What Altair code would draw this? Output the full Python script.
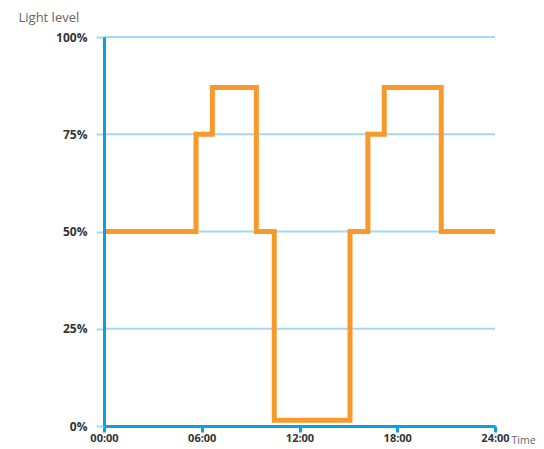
import altair as alt
import pandas as pd

# Step profile: light level (%) held from each time (hours) until the next one
times = [0, 5.65, 6.65, 9.35, 10.45, 15.1, 16.2, 17.2, 20.7, 24]
levels = [50, 75, 87, 50, 1.5, 50, 75, 87, 50, 50]

y_ticks = [0, 25, 50, 75, 100]
x_ticks = [0, 6, 12, 18, 24]

AXIS_BLUE = "#0aa0e2"
GRID_BLUE = "#a3daf3"
ORANGE = "#f7992b"
FONT = "Open Sans"

df = pd.DataFrame({"time": times, "level": levels})
grid_df = pd.DataFrame({"level": y_ticks})

x_scale = alt.Scale(domain=[0, 24], nice=False, zero=False)
y_scale = alt.Scale(domain=[0, 100], nice=False)

y_axis = alt.Axis(
    values=y_ticks,
    labelExpr="datum.value + '%'",
    title="Light level",
    titleAngle=0,
    titleAlign="left",
    titleBaseline="alphabetic",
    titleX=-86,
    titleY=-16,
    titleFont=FONT,
    titleFontSize=13,
    titleFontWeight="normal",
    titleColor="#666666",
    domainColor=AXIS_BLUE,
    domainWidth=3,
    tickColor=GRID_BLUE,
    tickWidth=2,
    tickSize=8,
    labelFont=FONT,
    labelFontSize=12,
    labelFontWeight="bold",
    labelColor="#333333",
    labelPadding=9,
    labelFlush=False,
    grid=False,
    zindex=1,
)

x_axis = alt.Axis(
    values=x_ticks,
    labelExpr="(datum.value < 10 ? '0' : '') + datum.value + ':00'",
    title="Time",
    titleAngle=0,
    titleAlign="left",
    titleBaseline="alphabetic",
    titleX=407,
    titleY=17,
    titleFont=FONT,
    titleFontSize=10.5,
    titleFontWeight="normal",
    titleColor="#666666",
    domainColor=AXIS_BLUE,
    domainWidth=3,
    tickColor=AXIS_BLUE,
    tickWidth=3,
    tickSize=6,
    labelFont=FONT,
    labelFontSize=11,
    labelFontWeight="bold",
    labelColor="#333333",
    labelPadding=0,
    labelFlush=False,
    grid=False,
    zindex=1,
)

grid = alt.Chart(grid_df).mark_rule(color=GRID_BLUE, strokeWidth=2).encode(
    y=alt.Y("level:Q", scale=y_scale, axis=y_axis)
)

line = alt.Chart(df).mark_line(
    color=ORANGE, strokeWidth=5, interpolate="step-after", strokeJoin="miter", strokeCap="butt"
).encode(
    x=alt.X("time:Q", scale=x_scale, axis=x_axis),
    y=alt.Y("level:Q", scale=y_scale, axis=y_axis),
)

chart = alt.layer(grid, line).properties(
    width=391,
    height=389,
    autosize=alt.AutoSizeParams(type="none"),
    padding={"left": 96, "top": 29, "right": 41, "bottom": 24},
).configure_view(stroke=None)

chart.save("out.html", embed_options={"renderer": "svg", "actions": False})
